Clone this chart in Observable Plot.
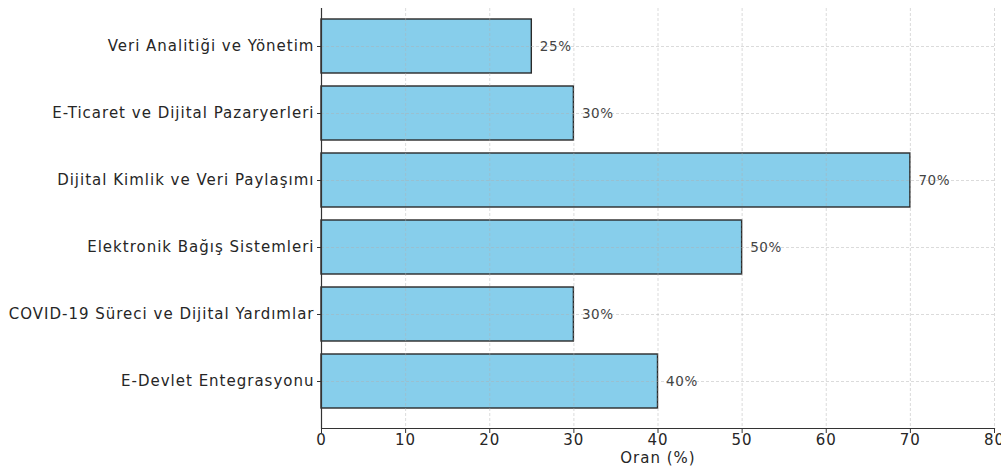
<!DOCTYPE html>
<html>
<head>
<meta charset="utf-8">
<script src="https://cdn.jsdelivr.net/npm/d3@7"></script>
<script src="https://cdn.jsdelivr.net/npm/@observablehq/plot@0.6"></script>
<style>
  html, body { margin: 0; padding: 0; background: #fff; }
  #chart { width: 1001px; height: 468px; overflow: hidden; }
  #chart svg g[aria-label="y-axis tick label"] text { letter-spacing: 1px; }
  #chart svg g[aria-label="x-axis tick label"] text { letter-spacing: 1px; }
  #chart svg g[aria-label="x-axis label"] text { letter-spacing: 1px; }
  #chart svg g[aria-label="text"] text { letter-spacing: 0.6px; }
</style>
</head>
<body>
<div id="chart"></div>
<script>
const categories = [
  "Veri Analitiği ve Yönetim",
  "E-Ticaret ve Dijital Pazaryerleri",
  "Dijital Kimlik ve Veri Paylaşımı",
  "Elektronik Bağış Sistemleri",
  "COVID-19 Süreci ve Dijital Yardımlar",
  "E-Devlet Entegrasyonu"
];
const values = [25, 30, 70, 50, 30, 40];
const xTicks = [0, 10, 20, 30, 40, 50, 60, 70, 80];

const data = categories.map((c, i) => ({cat: c, value: values[i]}));

const plot = Plot.plot({
  width: 1001,
  height: 468,
  marginLeft: 321,
  marginRight: 7,
  marginTop: 8,
  marginBottom: 40,
  style: {fontFamily: "'DejaVu Sans', sans-serif", fontSize: "15px", color: "#262626", background: "#fff", overflow: "visible"},
  x: {domain: [0, 80], ticks: xTicks},
  y: {domain: categories, range: [0, 428], paddingInner: 0.194, paddingOuter: 0.284},
  marks: [
    Plot.barX(data, {x: "value", y: "cat", fill: "#87CEEB", stroke: "#2a2a2a", strokeWidth: 1.4}),
    Plot.gridX(xTicks, {stroke: "#b0b0b0", strokeOpacity: 0.45, strokeDasharray: "3,2"}),
    Plot.gridY(categories, {stroke: "#b0b0b0", strokeOpacity: 0.45, strokeDasharray: "3,2"}),
    Plot.text(data, {x: "value", y: "cat", text: d => d.value + "%", textAnchor: "start", dx: 8, fontSize: 13.5, fill: "#444"}),
    Plot.ruleX([0], {stroke: "#333", strokeWidth: 1.2}),
    Plot.frame({anchor: "bottom", stroke: "#333", strokeWidth: 1.2}),
    Plot.axisY({tickSize: 4, tickPadding: 3, fontSize: 15, label: null, stroke: "#333"}),
    Plot.axisX(xTicks, {tickSize: 5, tickPadding: 1, fontSize: 15, label: "Oran (%)", labelAnchor: "center", labelOffset: 34, labelArrow: "none", stroke: "#333"})
  ]
});
document.getElementById("chart").appendChild(plot);
</script>
</body>
</html>
